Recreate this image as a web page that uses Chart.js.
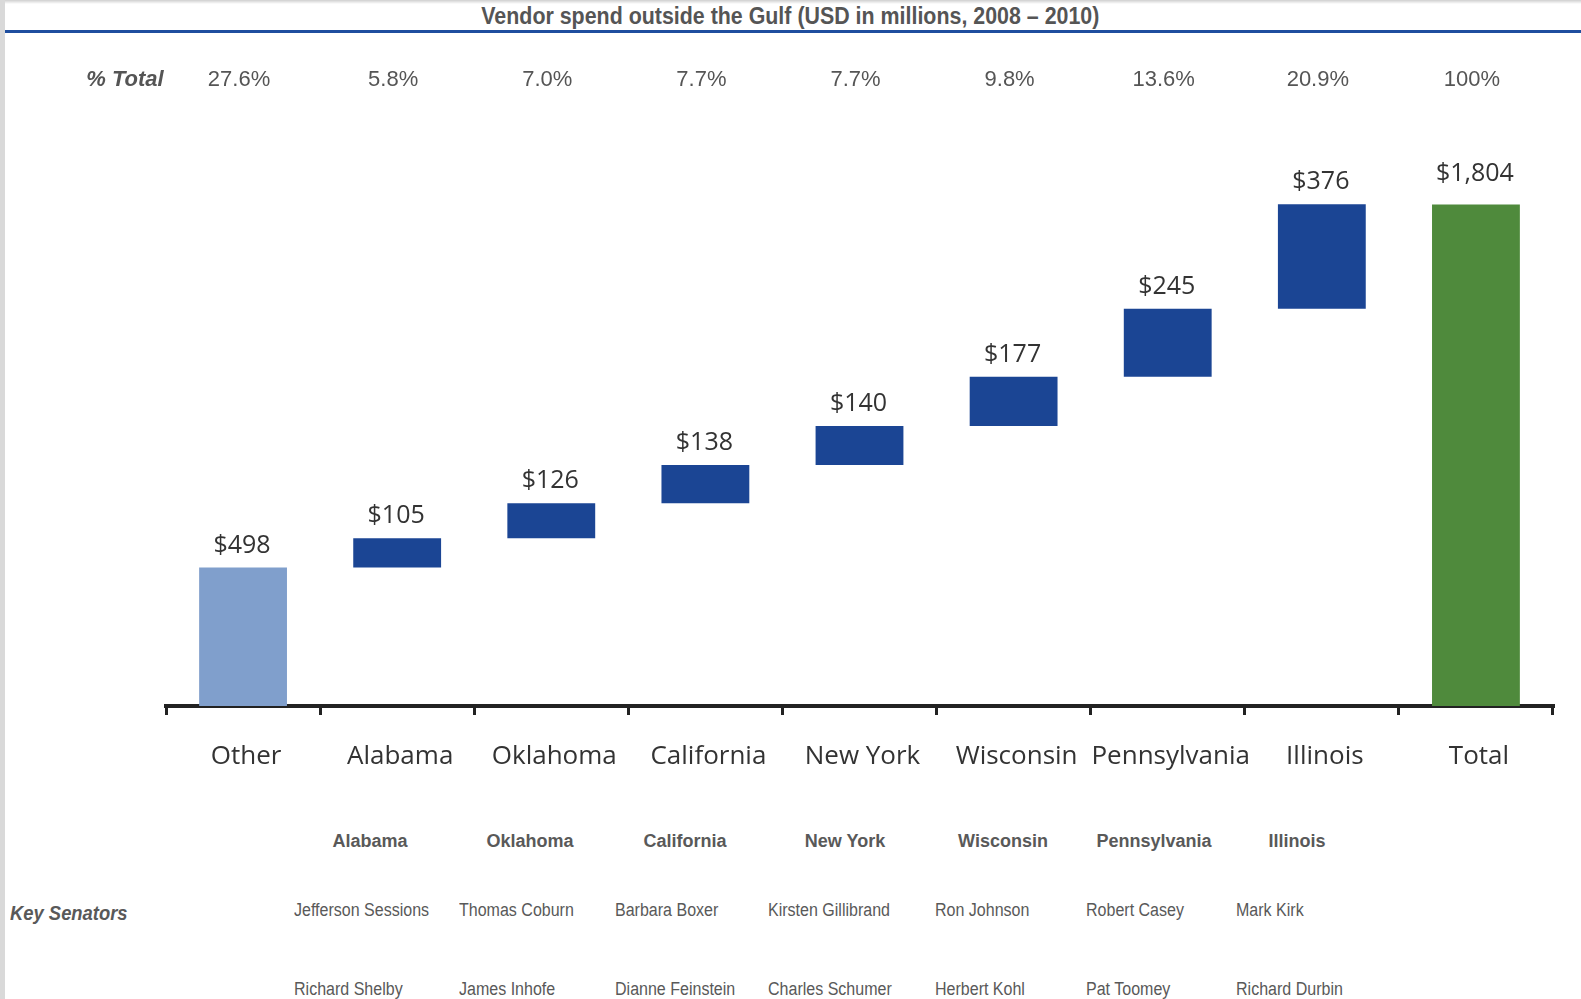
<!DOCTYPE html>
<html>
<head>
<meta charset="utf-8">
<script src="https://cdn.jsdelivr.net/npm/chart.js@4.4.1/dist/chart.umd.min.js"></script>
<style>
  html, body { margin: 0; padding: 0; background: #fff; }
  body { width: 1581px; height: 999px; position: relative; overflow: hidden; font-family: "Liberation Sans Narrow", "Arial Narrow", "Liberation Sans", sans-serif; color: #595959; }
  .edge-left { position: absolute; left: 0; top: 0; width: 5px; height: 999px; background: #d9d9d9; }
  .edge-top { position: absolute; left: 0; top: 0; width: 1581px; height: 4px; background: linear-gradient(#cfcfcf, #fff); }
  .title { position: absolute; top: 3px; left: 0; width: 1581px; text-align: center; }
  .title span { display: inline-block; font-weight: bold; font-size: 23px; color: #555; transform: scaleX(0.93); }
  .rule { position: absolute; left: 5px; right: 0; top: 30px; height: 3px; background: #1f4e9f; }
  #wrap { position: absolute; left: 0; top: 0; width: 1581px; height: 786px; }
  .cell { position: absolute; white-space: nowrap; font-size: 18px; color: #595959; transform-origin: left top; }
  .name { transform: scaleX(0.89); }
  .hdr { font-weight: bold; transform: translateX(-50%); }
  .key { position: absolute; left: 10px; top: 902px; font-weight: bold; font-style: italic; font-size: 20px; color: #595959; transform: scaleX(0.92); transform-origin: left top; }
</style>
</head>
<body>
<div class="edge-top"></div>
<div class="edge-left"></div>
<div class="title"><span>Vendor spend outside the Gulf (USD in millions, 2008 – 2010)</span></div>
<div class="rule"></div>
<div id="wrap"><canvas id="chart"></canvas></div>
<div class="key">Key Senators</div>
<div id="senators"></div>
<script>
const categories = ["Other", "Alabama", "Oklahoma", "California", "New York", "Wisconsin", "Pennsylvania", "Illinois", "Total"];
const amounts = [498, 105, 126, 138, 140, 177, 245, 376, 1804];
const shares = ["27.6%", "5.8%", "7.0%", "7.7%", "7.7%", "9.8%", "13.6%", "20.9%", "100%"];

const senatorStates = ["Alabama", "Oklahoma", "California", "New York", "Wisconsin", "Pennsylvania", "Illinois"];
const senatorsFirst = ["Jefferson Sessions", "Thomas Coburn", "Barbara Boxer", "Kirsten Gillibrand", "Ron Johnson", "Robert Casey", "Mark Kirk"];
const senatorsSecond = ["Richard Shelby", "James Inhofe", "Dianne Feinstein", "Charles Schumer", "Herbert Kohl", "Pat Toomey", "Richard Durbin"];

// waterfall ranges: running total for the states, full bar for Total
let running = 0;
const ranges = amounts.map((v, i) => {
  if (i === amounts.length - 1) return [0, v];
  const r = [running, running + v];
  running += v;
  return r;
});
const barColors = amounts.map((v, i) => i === 0 ? "#809fcc" : (i === amounts.length - 1 ? "#4f8a3c" : "#1b4594"));

const narrow = "'Liberation Sans Narrow', 'Arial Narrow', 'Liberation Sans', sans-serif";

const labelPlugin = {
  id: "waterfallLabels",
  afterDatasetsDraw(chart) {
    const ctx = chart.ctx;
    const meta = chart.getDatasetMeta(0);
    const xScale = chart.scales.x;
    ctx.save();
    ctx.textAlign = "center";
    ctx.textBaseline = "middle";
    ctx.fillStyle = "#333";
    ctx.font = "25px 'Open Sans', sans-serif";
    meta.data.forEach((bar, i) => {
      const off = i === amounts.length - 1 ? 31 : 22;
      ctx.fillText("$" + amounts[i].toLocaleString("en-US"), bar.x - 1, bar.y - off);
    });
    ctx.fillStyle = "#555";
    ctx.font = "22px " + narrow;
    shares.forEach((s, i) => {
      ctx.fillText(s, xScale.getPixelForValue(i) - 4, 80);
    });
    ctx.font = "bold italic 22px " + narrow;
    ctx.fillText("% Total", 125, 80);
    ctx.restore();
  }
};

new Chart(document.getElementById("chart"), {
  type: "bar",
  data: {
    labels: categories,
    datasets: [{
      data: ranges,
      backgroundColor: barColors,
      borderWidth: 0,
      barPercentage: 0.57,
      categoryPercentage: 1.0
    }]
  },
  options: {
    responsive: true,
    maintainAspectRatio: false,
    animation: false,
    layout: { padding: { left: 166, right: 28, top: 150, bottom: 0 } },
    plugins: { legend: { display: false }, tooltip: { enabled: false } },
    scales: {
      x: {
        afterFit: (axis) => { axis.height = 80; },
        border: { display: true, color: "#222", width: 4 },
        grid: { display: true, offset: true, drawOnChartArea: false, drawTicks: true, tickLength: 9, color: "#222", lineWidth: 3 },
        ticks: { color: "#333", font: { family: "'Open Sans', sans-serif", size: 26 }, padding: 26, labelOffset: 3, maxRotation: 0, autoSkip: false }
      },
      y: { display: false, min: 0, max: 2000 }
    }
  },
  plugins: [labelPlugin]
});

// key senators table
const hdrX = [370, 530, 685, 845, 1003, 1154, 1297];
const nameX = [294, 459, 615, 768, 935, 1086, 1236];
const box = document.getElementById("senators");
senatorStates.forEach((st, i) => {
  const h = document.createElement("div");
  h.className = "cell hdr";
  h.style.left = hdrX[i] + "px";
  h.style.top = "831px";
  h.textContent = st;
  box.appendChild(h);
  [senatorsFirst[i], senatorsSecond[i]].forEach((name, j) => {
    const n = document.createElement("div");
    n.className = "cell name";
    n.style.left = nameX[i] + "px";
    n.style.top = (j === 0 ? 900 : 979) + "px";
    n.textContent = name;
    box.appendChild(n);
  });
});
</script>
</body>
</html>
